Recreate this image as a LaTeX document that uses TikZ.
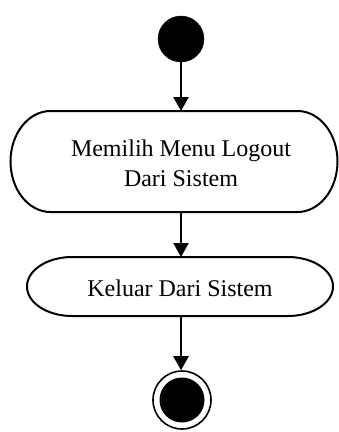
\documentclass[tikz,border=0pt]{standalone}
\usepackage{fontspec}
\setmainfont{Liberation Serif}
\usetikzlibrary{arrows.meta}
\tikzset{
  startnode/.style={circle, fill=black, draw=black, minimum size=46pt, inner sep=0pt},
  endnode/.style={circle, draw=black, line width=1.6pt, fill=white, minimum size=58pt, inner sep=0pt,
    path picture={\fill[black] (path picture bounding box.center) circle (22.5pt);}},
  actbox/.style={inner sep=0pt, outer sep=0pt},
  acttext/.style={font=\fontsize{24pt}{30pt}\selectfont, align=center, inner sep=0pt},
  outline/.style={line width=2pt, draw=black},
  arr/.style={line width=2.4pt, -{Triangle[width=15pt,length=14pt]}},
}
\begin{document}
\begin{tikzpicture}[x=1pt,y=1pt]
\useasboundingbox (0,0) rectangle (339,-432);
% start
\node[startnode] (start) at (181,-39) {};
% activity 1
\node[actbox, minimum width=327pt, minimum height=101pt] (a1) at (174,-161.5) {};
\draw[outline] (a1.north west) ++(40,0) -- ([xshift=-40pt]a1.north east)
  arc[start angle=90, end angle=-90, x radius=40, y radius=50.5]
  -- ([xshift=40pt]a1.south west)
  arc[start angle=-90, end angle=-270, x radius=40, y radius=50.5] -- cycle;
\node[acttext] (t1) at (181,-163) {Memilih Menu Logout\\Dari Sistem};
% activity 2
\node[actbox, minimum width=306pt, minimum height=59pt] (a2) at (180,-286.5) {};
\draw[outline] (a2.north west) ++(45,0) -- ([xshift=-45pt]a2.north east)
  arc[start angle=90, end angle=-90, x radius=45, y radius=29.5]
  -- ([xshift=45pt]a2.south west)
  arc[start angle=-90, end angle=-270, x radius=45, y radius=29.5] -- cycle;
\node[acttext] (t2) at (180,-288) {Keluar Dari Sistem};
% end
\node[endnode] (end) at (182,-400) {};
% connectors
\draw[arr] (start.south) -- (start.south |- a1.north);
\draw[arr] (a1.south -| start.south) -- (start.south |- a2.north);
\draw[arr] (a2.south -| start.south) -- (start.south |- end.north);
\end{tikzpicture}
\end{document}
